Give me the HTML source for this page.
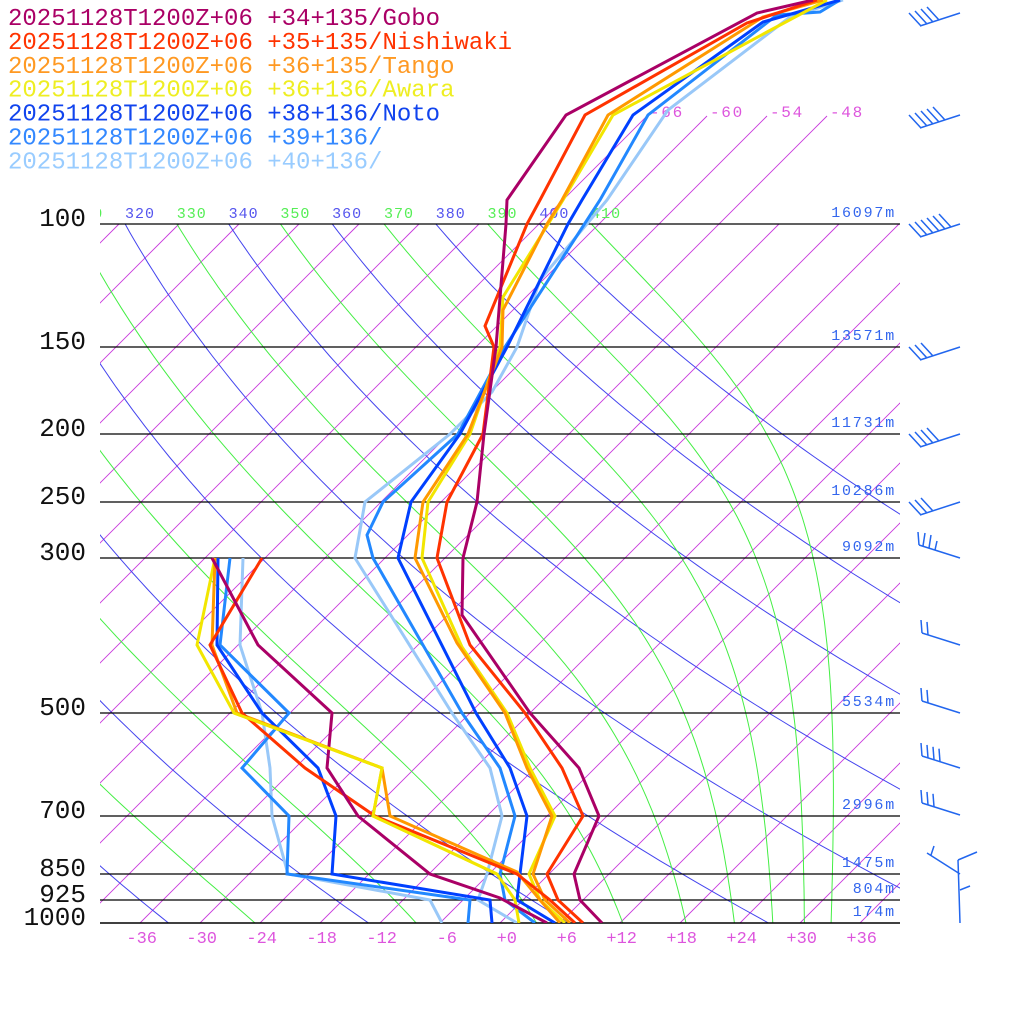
<!DOCTYPE html>
<html><head><meta charset="utf-8"><style>
html,body{margin:0;padding:0;background:#fff;}
svg{display:block;}
.mono{font-family:"Liberation Mono","DejaVu Sans Mono",monospace;}
</style></head><body>
<svg id="s" width="1024" height="1024" viewBox="0 0 1024 1024" xmlns="http://www.w3.org/2000/svg">
<defs><clipPath id="cp"><rect x="100" y="0" width="800" height="923"/></clipPath></defs>
<rect width="1024" height="1024" fill="#fff"/>
<g id="bg" clip-path="url(#cp)"></g>
<g id="hl"></g>
<g id="data" clip-path="url(#cp)"></g>
<g id="txt" class="mono"></g>
<g id="wind" stroke="#2266ee" stroke-width="1.5" fill="none"></g>
</svg>
<script>
var NS="http://www.w3.org/2000/svg";
function el(parent,tag,attrs,text){var e=document.createElementNS(NS,tag);for(var k in attrs)e.setAttribute(k,attrs[k]);if(text!==undefined)e.textContent=text;document.getElementById(parent).appendChild(e);return e;}
function Y(p){return 923-303.6*Math.log(1000/p);}
function X(T,y){return 500+10*T+(923-y);}
for(var T=-126;T<=42;T+=6){
  var yt=(T>=-66&&T<=-48)?116:224;
  el("bg","line",{x1:X(T,923),y1:923,x2:X(T,yt),y2:yt,stroke:"#c838dc","stroke-width":"0.9"});
}
for(var th=160;th<=400;th+=20){
  var pts=[];
  for(var i=0;i<=90;i++){var p=100*Math.pow(10,i/90);var y=Y(p);var t=th*Math.pow(p/1000,0.2857)-273.15;pts.push(X(t,y).toFixed(1)+","+y.toFixed(1));}
  el("bg","polyline",{points:pts.join(" "),fill:"none",stroke:"#4444ee","stroke-width":"1"});
  var xl=X(th*Math.pow(0.1,0.2857)-273.15,224);
  el("bg","text",{x:xl,y:218,fill:"#5555ee","font-size":"15","letter-spacing":"1","font-family":"Liberation Mono, monospace"},String(th));
}
function es(Tc){return 6.112*Math.exp(17.67*Tc/(Tc+243.5));}
for(var te=170;te<=410;te+=20){
  var Tk=te*Math.pow(0.1,0.2857);var lp=Math.log(100);var N=400;var dl=Math.log(10)/N;var pts=[];
  for(var i=0;i<=N;i++){
    var p=Math.exp(lp);var y=Y(p);
    if(i%4==0)pts.push(X(Tk-273.15,y).toFixed(1)+","+y.toFixed(1));
    var e=es(Tk-273.15);var rs=0.622*e/Math.max(p-e,1);
    var dT=(287*Tk+2.5e6*rs)/(1004+2.5e6*2.5e6*rs*0.622/(287*Tk*Tk));
    Tk+=dT*dl;lp+=dl;
  }
  el("bg","polyline",{points:pts.join(" "),fill:"none",stroke:"#44ee44","stroke-width":"1"});
  var xl=X(te*Math.pow(0.1,0.2857)-273.15,224);
  el("bg","text",{x:xl,y:218,fill:"#55ee55","font-size":"15","letter-spacing":"1","font-family":"Liberation Mono, monospace"},String(te));
}
[-66,-60,-54,-48].forEach(function(T){el("bg","text",{x:X(T,116)+3,y:117,fill:"#dd55dd","font-size":"16","letter-spacing":"1.7","font-family":"Liberation Mono, monospace"},String(T));});
var P=[[100,224,"100","16097m"],[150,347,"150","13571m"],[200,434,"200","11731m"],[250,502,"250","10286m"],[300,558,"300","9092m"],[500,713,"500","5534m"],[700,816,"700","2996m"],[850,874,"850","1475m"],[925,900,"925","804m"],[1000,923,"1000","174m"]];
P.forEach(function(a){
  el("hl","line",{x1:100,y1:a[1],x2:900,y2:a[1],stroke:"#000","stroke-width":a[0]==1000?"1.6":"1.2"});
  el("txt","text",{x:86,y:a[1]+2,"text-anchor":"end",fill:"#111","font-size":"26"},a[2]);
  el("txt","text",{x:896,y:a[1]-7,"text-anchor":"end",fill:"#3366ee","font-size":"15","letter-spacing":"1.8"},a[3]);
});
for(var T=-36;T<=36;T+=6){var s=(T>=0?"+":"")+T;el("txt","text",{x:X(T,923)+17,y:943,"text-anchor":"end",fill:"#dd55dd","font-size":"17"},s);}
var L=[["#aa0066","+34+135/Gobo"],["#ff3300","+35+135/Nishiwaki"],["#ff9922","+36+135/Tango"],["#eeee22","+36+136/Awara"],["#1144ee","+38+136/Noto"],["#3388ff","+39+136/"],["#99ccff","+40+136/"]];
L.forEach(function(a,i){el("txt","text",{x:8,y:25+i*23.9,fill:a[0],"font-size":"24",textLength:"1"===""?0:undefined}, "20251128T1200Z+06 "+a[1]);});
var TT=[
["#aa0066",[[602,923],[580,900],[574,874],[599,816],[579,768],[530,713],[462,615],[463,558],[477,502],[484,434],[496,347],[506,224],[507,200],[566,115],[757,13],[813,0]],
 [[212,558],[258,645],[332,713],[327,768],[358,816],[430,874],[500,898],[547,923]]],
["#ff3300",[[583,923],[558,900],[547,874],[583,816],[562,768],[525,713],[470,645],[437,558],[447,502],[483,434],[494,347],[485,326],[527,224],[540,200],[585,115],[747,23],[817,0]],
 [[262,558],[210,645],[242,713],[305,768],[375,816],[517,874],[550,900],[575,923]]],
["#ff9900",[[570,923],[545,900],[533,874],[552,816],[527,768],[505,713],[457,643],[415,558],[423,502],[468,434],[502,347],[503,310],[547,224],[562,200],[608,115],[763,17],[823,0]],
 [[215,558],[212,645],[237,713],[382,768],[390,816],[517,872],[540,900],[560,923]]],
["#f2e600",[[565,923],[540,900],[529,874],[555,816],[530,768],[507,713],[462,647],[422,558],[428,502],[470,434],[500,347],[503,297],[563,200],[613,115],[767,32],[827,0]],
 [[215,558],[197,645],[234,713],[382,768],[373,816],[497,874],[515,900],[519,923]]],
["#0040ff",[[555,923],[517,900],[520,874],[527,816],[510,768],[476,713],[398,558],[411,502],[460,434],[507,347],[568,224],[582,200],[633,115],[763,22],[840,0]],
 [[218,558],[217,645],[262,713],[318,768],[336,816],[332,874],[490,900],[492,923]]],
["#2288ff",[[535,923],[505,900],[500,874],[515,816],[500,768],[462,713],[373,558],[367,535],[383,502],[458,434],[505,347],[600,200],[648,115],[777,15],[820,12],[840,0]],
 [[230,558],[220,645],[289,713],[242,768],[289,816],[287,874],[470,900],[468,923]]],
["#99c8f8",[[517,923],[478,900],[487,874],[502,816],[490,768],[452,713],[355,558],[365,502],[450,434],[492,392],[517,347],[540,280],[607,200],[668,110],[790,17],[843,0]],
 [[243,558],[240,645],[262,713],[270,768],[272,816],[288,874],[430,900],[442,923]]]
];
for(var i=TT.length-1;i>=0;i--){
  var a=TT[i];
  [a[1],a[2]].forEach(function(ps){el("data","polyline",{points:ps.map(function(q){return q.join(",");}).join(" "),fill:"none",stroke:a[0],"stroke-width":"3","stroke-linejoin":"miter"});});
}
// redraw yellow dewpoint segment on top where it diverges from orange
el("data","polyline",{points:"234,713 382,768 373,816 497,874",fill:"none",stroke:"#f2e600","stroke-width":"3"});
function ln(x1,y1,x2,y2){el("wind","line",{x1:x1,y1:y1,x2:x2,y2:y2});}
function upper(y,n){ln(960,y,920,y+13);for(var k=0;k<n;k++){var xs=921+k*6,ys=y+13-k*2;ln(xs,ys,xs-12,ys-13);} }
upper(13,4);upper(115,5);upper(224,6);upper(347,3);upper(434,4);upper(502,3);
function lower(y,n){ln(922,y-12,960,y);for(var k=0;k<n;k++){var xs=922+k*6,ys=y-12+k*1.9;ln(xs,ys,xs-1,ys-13);} }
ln(960,558,919,545);ln(919,545,918,532);ln(923,546,925,533);ln(929,548,931,535);ln(935,550,937,541);
lower(645,2);lower(713,2);lower(768,4);lower(815,3);
ln(927,853,960,874);ln(931,855,934,846);ln(958,860,960,923);ln(958,860,977,852);ln(960,890,970,886);
</script>
</body></html>
